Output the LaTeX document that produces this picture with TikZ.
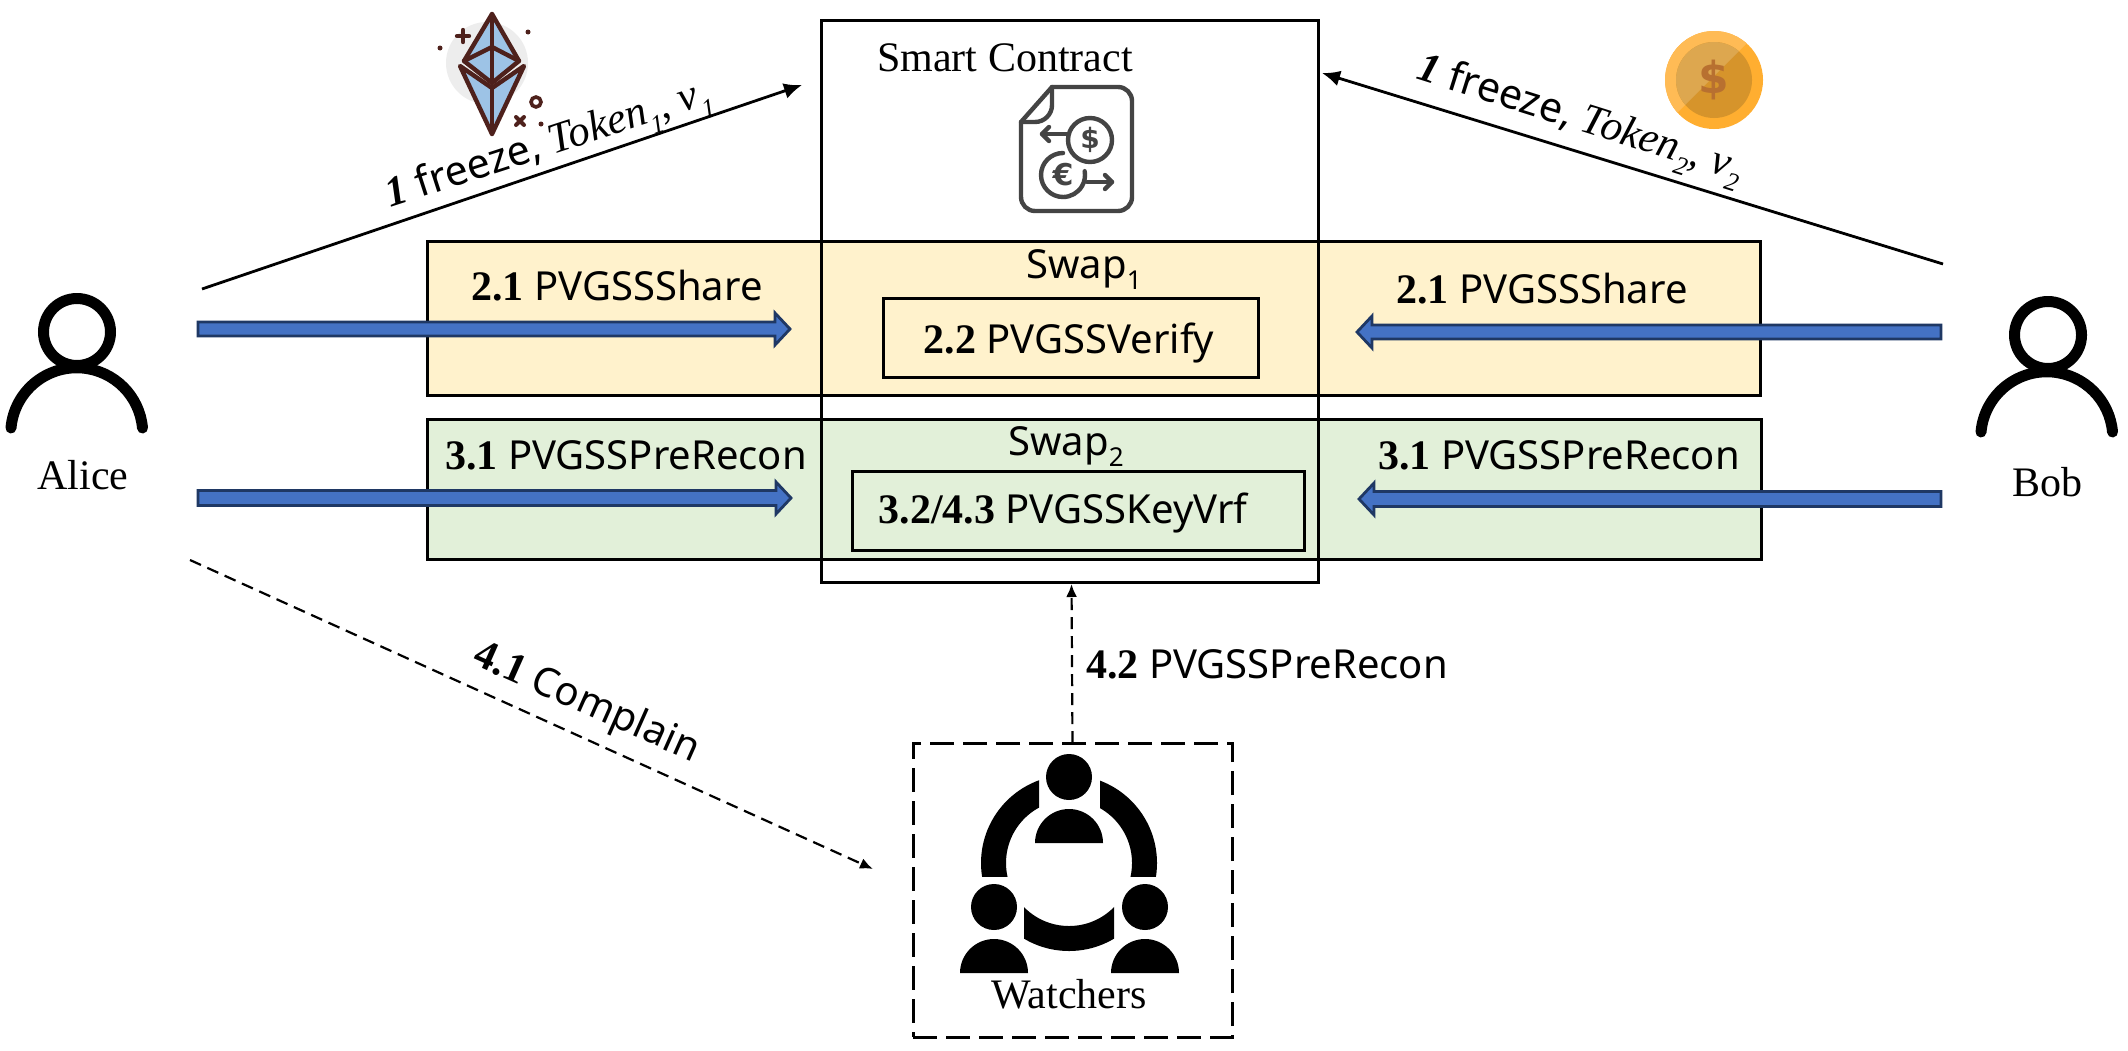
\documentclass[tikz,border=0pt]{standalone}
\usepackage{fontspec}
\setmainfont{Liberation Serif}
\newfontfamily\nsf{Noto Sans}
\newfontfamily\dvs{DejaVu Sans}
\usetikzlibrary{arrows.meta,calc}
\definecolor{swapY}{HTML}{FFF2CC}
\definecolor{swapG}{HTML}{E2F0D9}
\definecolor{arrowFill}{HTML}{4472C4}
\definecolor{arrowLine}{HTML}{1F3864}
\definecolor{ethLine}{HTML}{4E211C}
\definecolor{ethFill}{HTML}{9DC3E6}
\definecolor{iconGray}{HTML}{444444}
\definecolor{coinA}{HTML}{FFAE30}
\definecolor{coinB}{HTML}{FFBB55}
\definecolor{coinC}{HTML}{D6942B}
\definecolor{coinD}{HTML}{DDA74F}
\definecolor{coinS}{HTML}{B87030}
\newcommand\stepno[1]{{\rmfamily\bfseries\fontsize{21}{24}\selectfont #1}}
\newcommand\lowsub[1]{\raisebox{-0.28em}{\fontsize{13}{14}\selectfont #1}}
\def\fatdir{1}
\newcommand\fatarrow[3]{%
  \draw[fatarrow] ($(#1)+(0,-#3)$) -- ($(#2)+(-15*\fatdir,-#3)$) -- ($(#2)+(-15*\fatdir,-16)$) -- (#2)
    -- ($(#2)+(-15*\fatdir,16)$) -- ($(#2)+(-15*\fatdir,#3)$) -- ($(#1)+(0,#3)$) -- cycle;}
\tikzset{
  swapbox/.style={draw=black,line width=1.5pt,inner sep=0,outer sep=0},
  boxnode/.style={draw=black,line width=1.5pt,inner sep=0,outer sep=0},
  seriflabel/.style={inner sep=0,anchor=base,font=\rmfamily\fontsize{21}{24}\selectfont},
  sanslabel/.style={inner sep=0,anchor=base,font=\nsf\fontsize{20}{23}\selectfont},
  fatarrow/.style={fill=arrowFill,draw=arrowLine,line width=1.4pt,line join=miter},
  solidarrow/.style={line width=1.4pt,-{Latex[length=9pt,width=8pt]}},
  dasharrow/.style={line width=1.1pt,dash pattern=on 6pt off 3.5pt,-{Latex[length=6.5pt,width=5.5pt]}},
  person/.style={line width=5.5pt,draw=black},
  ethstroke/.style={draw=ethLine,line width=2.2pt,line join=round,line cap=round,fill=ethFill},
  contractline/.style={draw=iconGray,line width=2.2pt,line cap=round,line join=round},
}
\begin{document}
\begin{tikzpicture}[x=0.5pt,y=-0.5pt]
\useasboundingbox (0,0) rectangle (2128,1050);
\fill[white] (0,0) rectangle (2128,1050);

% swap bands
\node[swapbox,fill=swapY,minimum width=666.5pt,minimum height=77pt] (band1) at (1093.5,318) {};
\node[swapbox,fill=swapG,minimum width=667pt,minimum height=70pt] (band2) at (1094,489) {};
% contract box
\node[boxnode,minimum width=248.5pt,minimum height=281pt] (contract) at (1070,301) {};
% inner boxes
\node[boxnode,minimum width=187.5pt,minimum height=39.5pt] (verify) at (1070.5,337.5) {};
\node[boxnode,minimum width=226pt,minimum height=39.5pt] (keyvrf) at (1078,510.5) {};
% watchers box
\node[draw=black,line width=1.5pt,dash pattern=on 12pt off 4.5pt,inner sep=0,outer sep=0,minimum width=159.5pt,minimum height=147pt] (watchers) at (1072.5,890) {};

% band and box labels
\node[seriflabel] (contractlabel) at (1005,71) {Smart Contract};
\node[sanslabel] (swaponelabel) at (1084,278) {Swap\lowsub{1}};
\node[sanslabel] (swaptwolabel) at (1066,455) {Swap\lowsub{2}};
\node[sanslabel] (verifylabel) at (1069,353) {\stepno{2.2} PVGSSVerify};
\node[sanslabel] (keyvrflabel) at (1063,523) {\stepno{3.2/4.3} PVGSSKeyVrf};
\node[sanslabel] (shareL) at (617,300) {\stepno{2.1} PVGSSShare};
\node[sanslabel] (reconL) at (626,469) {\stepno{3.1} PVGSSPreRecon};
\node[sanslabel] (shareR) at (1542,303) {\stepno{2.1} PVGSSShare};
\node[sanslabel] (reconR) at (1559,469) {\stepno{3.1} PVGSSPreRecon};
\node[seriflabel] (alice) at (83,489) {Alice};
\node[seriflabel] (bob) at (2047,496) {Bob};
\node[seriflabel] (watcherslabel) at (1069,1008) {Watchers};

% persons
\draw[person] (77,332) circle [radius=33.5];
\draw[person,line cap=round] (11,428) arc [start angle=185,end angle=355,radius=66];
\draw[person] (2048,335) circle [radius=33.5];
\draw[person,line cap=round] (1981,432) arc [start angle=185,end angle=355,radius=66];

% connector end points
\coordinate (aliceTop) at (202,289);
\coordinate (contractL) at (802,85);
\coordinate (bobTop) at (1943,264);
\coordinate (contractR) at (1322,73);
\coordinate (aliceLow) at (190,560);
\coordinate (watchersL) at (873,869);
\coordinate (a1s) at (198,329);
\coordinate (a1t) at (790,329);
\coordinate (a2s) at (198,498);
\coordinate (a2t) at (791,498);
\coordinate (b1s) at (1941,332);
\coordinate (b1t) at (1357,332);
\coordinate (b2s) at (1941,499);
\coordinate (b2t) at (1359,499);

\draw[solidarrow] (aliceTop) -- (contractL);
\draw[solidarrow] (bobTop) -- (contractR);
\draw[dasharrow] (aliceLow) -- (watchersL);
\draw[dasharrow] (watchers.north) -- ($(watchers.north |- contract.south)+(-1,2)$);

\def\fatdir{1}
\fatarrow{a1s}{a1t}{7}
\fatarrow{a2s}{a2t}{7.5}
\def\fatdir{-1}
\fatarrow{b1s}{b1t}{7}
\fatarrow{b2s}{b2t}{7.5}

% connector labels
\node[sanslabel,rotate=18,font=\nsf\fontsize{20.5}{23}\selectfont] (freezeL) at (552,155) {\stepno{\itshape 1} freeze, {\rmfamily\itshape\fontsize{21.5}{24}\selectfont Token\lowsub{1}, v\lowsub{1}}};
\node[sanslabel,rotate=-17.5,font=\nsf\fontsize{20.5}{23}\selectfont] (freezeR) at (1577,130) {\stepno{\itshape 1} freeze, {\rmfamily\itshape\fontsize{21.5}{24}\selectfont Token\lowsub{2}, v\lowsub{2}}};
\node[sanslabel,rotate=-24] (complain) at (582,713) {\stepno{4.1} Complain};
\node[sanslabel] (watchlabel) at (1267,678) {\stepno{4.2} PVGSSPreRecon};

% ethereum icon
\fill[black!7] (487,63) circle [radius=41];
\draw[ethstroke] (492,14) -- (464,61) -- (492,83) -- (519,61) -- cycle;
\draw[ethstroke] (464,61) -- (492,47) -- (519,61);
\draw[ethstroke] (492,14) -- (492,83);
\draw[ethstroke] (460,66) -- (492,88) -- (524,66) -- (492,134) -- cycle;
\draw[ethstroke] (492,88) -- (492,134);
\draw[draw=ethLine,line width=2.2pt,line cap=round] (457,36) -- (469,36) (463,30) -- (463,42);
\fill[ethLine] (440,48) circle [radius=2.5] (528,32) circle [radius=2.5] (541,124) circle [radius=2.5];
\draw[draw=ethLine,line width=1.8pt] (536,102) circle [radius=5];
\draw[draw=ethLine,line width=2pt,line cap=round] (516,117) -- (524,125) (524,117) -- (516,125);

% coin icon
\fill[coinA] (1714,80) circle [radius=49];
\begin{scope}
\clip (1640,10) -- (1780,10) -- (1640,150) -- cycle;
\fill[coinB] (1714,80) circle [radius=49];
\end{scope}
\fill[coinC] (1714,80) circle [radius=38];
\begin{scope}
\clip (1640,10) -- (1780,10) -- (1640,150) -- cycle;
\fill[coinD] (1714,80) circle [radius=38];
\end{scope}
\node[inner sep=0,text=coinS,font=\dvs\bfseries\fontsize{22}{26}\selectfont] (coinsign) at (1714,80) {\$};

% contract icon
\draw[contractline] (1052,87) -- (1118,87) arc [start angle=-90,end angle=0,radius=14] -- (1132,197) arc [start angle=0,end angle=90,radius=14] -- (1035,211) arc [start angle=90,end angle=180,radius=14] -- (1021,122) -- cycle;
\draw[contractline] (1052,87) -- (1052,105) arc [start angle=0,end angle=90,radius=17] -- (1021,122);
\draw[contractline] (1090,140) circle [radius=22];
\draw[contractline] (1068,134) -- (1042,134);
\draw[contractline] (1049,127) -- (1042,134) -- (1049,141);
\node[inner sep=0,text=iconGray,font=\dvs\bfseries\fontsize{14}{15}\selectfont] (dollarsign) at (1090,140) {\$};
\draw[contractline] (1063,153) arc [start angle=-90,end angle=-270,radius=22] arc [start angle=90,end angle=-10,radius=22];
\node[inner sep=0,text=iconGray,font=\dvs\bfseries\fontsize{15}{15}\selectfont] (eurosign) at (1063,175) {€};
\draw[contractline] (1087,182) -- (1112,182);
\draw[contractline] (1105,175) -- (1112,182) -- (1105,189);

% watchers icon
\fill (1069,777) circle [radius=23];
\fill (994,907) circle [radius=23];
\fill (1145,907) circle [radius=23];
\fill (1035,843) arc [start angle=180,end angle=360,radius=34] -- cycle;
\fill (960,973) arc [start angle=180,end angle=360,radius=34] -- cycle;
\fill (1111,973) arc [start angle=180,end angle=360,radius=34] -- cycle;
\begin{scope}
\clip (970,770) rectangle (1039,876);
\fill[even odd rule] (1069,863) circle [radius=88] (1069,863) circle [radius=63];
\end{scope}
\begin{scope}
\clip (1100,770) rectangle (1170,876);
\fill[even odd rule] (1069,863) circle [radius=88] (1069,863) circle [radius=63];
\end{scope}
\begin{scope}
\clip (1024,895) rectangle (1114,960);
\fill[even odd rule] (1069,863) circle [radius=88] (1069,863) circle [radius=63];
\end{scope}
\end{tikzpicture}
\end{document}
